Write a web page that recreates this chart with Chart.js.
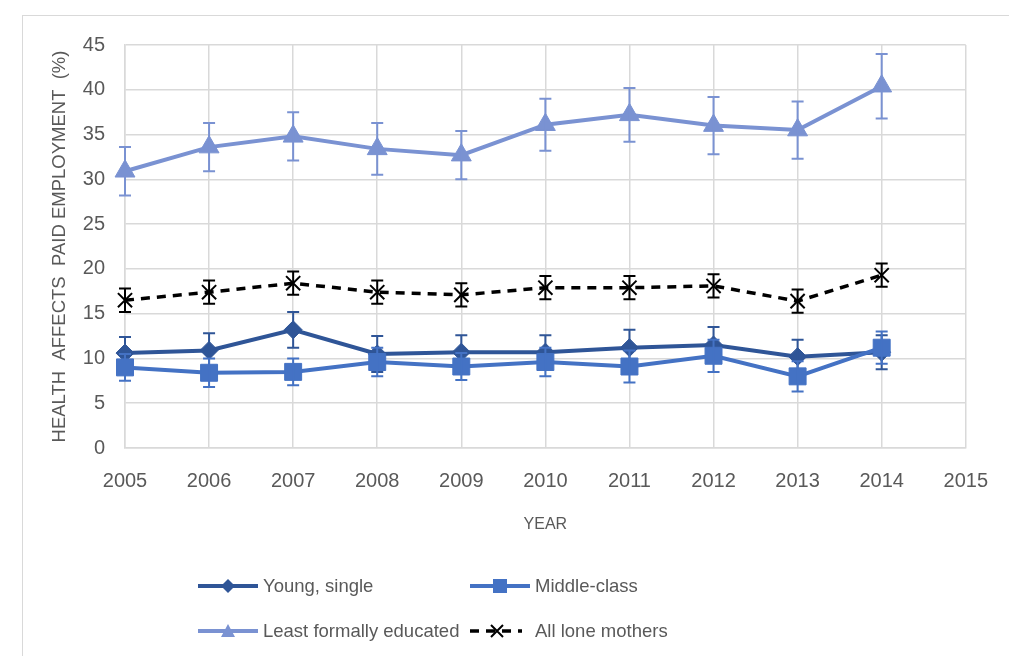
<!DOCTYPE html>
<html>
<head>
<meta charset="utf-8">
<script src="https://cdn.jsdelivr.net/npm/chart.js@4/dist/chart.umd.min.js"></script>
<style>
  html, body { margin:0; padding:0; background:#fff; }
  #wrap { position:relative; width:1009px; height:656px; overflow:hidden; }
  #frame { position:absolute; left:22px; top:15px; width:1000px; height:700px; border:1px solid #d9d9d9; box-sizing:border-box; }
  canvas { position:absolute; left:0; top:0; }
  .leg { position:absolute; font-family:"Liberation Sans", Arial, sans-serif; font-size:18.5px; color:#595959; white-space:nowrap; display:flex; align-items:center; }
  .leg svg { margin-right:5px; }
</style>
</head>
<body>
<div id="wrap">
  <div id="frame"></div>
  <canvas id="c" width="1009" height="656"></canvas>
  <div id="legend"></div>
</div>
<script>
const years = [2005, 2006, 2007, 2008, 2009, 2010, 2011, 2012, 2013, 2014];
const youngSingle = [10.6, 10.9, 13.2, 10.5, 10.7, 10.7, 11.2, 11.5, 10.2, 10.7];
const youngSingleErr = [1.8, 1.9, 2.0, 2.0, 1.9, 1.9, 2.0, 2.0, 1.9, 1.9];
const middleClass = [9.0, 8.4, 8.5, 9.6, 9.1, 9.6, 9.1, 10.3, 8.0, 11.2];
const middleClassErr = [1.5, 1.6, 1.5, 1.6, 1.5, 1.6, 1.8, 1.8, 1.7, 1.8];
const leastEducated = [30.9, 33.6, 34.8, 33.4, 32.7, 36.1, 37.2, 36.0, 35.5, 40.4];
const leastEducatedErr = [2.7, 2.7, 2.7, 2.9, 2.7, 2.9, 3.0, 3.2, 3.2, 3.6];
const allLoneMothers = [16.5, 17.4, 18.4, 17.4, 17.1, 17.9, 17.9, 18.1, 16.4, 19.3];
const allLoneMothersErr = [1.3, 1.3, 1.3, 1.3, 1.3, 1.3, 1.3, 1.3, 1.3, 1.3];
const seriesNames = ['Young, single', 'Middle-class', 'Least formally educated', 'All lone mothers'];
const yTicks = [0, 5, 10, 15, 20, 25, 30, 35, 40, 45];

const COL_YOUNG = '#2F5597';
const COL_MID = '#4472C4';
const COL_LEAST = '#7A92D2';
const COL_ALL = '#000000';

function pts(vals) { return vals.map((v, i) => ({ x: years[i], y: v })); }

const errorBars = {
  id: 'errorBars',
  afterDatasetDraw(chart, args) {
    const ds = chart.data.datasets[args.index];
    if (!ds.errors) return;
    const ctx = chart.ctx, xs = chart.scales.x, ys = chart.scales.y;
    ctx.save();
    ctx.strokeStyle = ds.errorColor || ds.borderColor;
    ctx.lineWidth = 2;
    ctx.setLineDash([]);
    ds.data.forEach((p, i) => {
      const e = ds.errors[i];
      const x = xs.getPixelForValue(p.x);
      const yt = ys.getPixelForValue(p.y + e);
      const yb = ys.getPixelForValue(p.y - e);
      ctx.beginPath();
      ctx.moveTo(x, yt); ctx.lineTo(x, yb);
      ctx.moveTo(x - 6, yt); ctx.lineTo(x + 6, yt);
      ctx.moveTo(x - 6, yb); ctx.lineTo(x + 6, yb);
      ctx.stroke();
    });
    ctx.restore();
  }
};

const tickFont = { family: '"Liberation Sans", Arial, sans-serif', size: 20 };

new Chart(document.getElementById('c'), {
  type: 'line',
  data: {
    datasets: [
      { label: seriesNames[3], data: pts(allLoneMothers), errors: allLoneMothersErr, borderColor: COL_ALL, backgroundColor: COL_ALL,
        borderWidth: 3.5, borderDash: [9, 7], pointStyle: 'crossRot', pointRadius: 10, pointBorderWidth: 2, order: 1, clip: false },
      { label: seriesNames[1], data: pts(middleClass), errors: middleClassErr, borderColor: COL_MID, backgroundColor: COL_MID,
        borderWidth: 4, pointStyle: 'rect', pointRadius: 12, pointBorderWidth: 1, order: 2, clip: false },
      { label: seriesNames[0], data: pts(youngSingle), errors: youngSingleErr, borderColor: COL_YOUNG, backgroundColor: COL_YOUNG,
        borderWidth: 4, pointStyle: 'rectRot', pointRadius: 9, pointBorderWidth: 1, order: 3, clip: false },
      { label: seriesNames[2], data: pts(leastEducated), errors: leastEducatedErr, borderColor: COL_LEAST, backgroundColor: COL_LEAST,
        borderWidth: 4, pointStyle: 'triangle', pointRadius: 11.5, pointBorderWidth: 1, order: 4, clip: false }
    ]
  },
  options: {
    responsive: false,
    animation: false,
    layout: { padding: { left: 49, top: 45, right: 36, bottom: 118 } },
    plugins: { legend: { display: false }, tooltip: { enabled: false } },
    scales: {
      x: {
        type: 'linear', min: 2005, max: 2015,
        afterFit(s) { s.height = 90; },
        grid: { color: '#d9d9d9', lineWidth: 1.5, drawTicks: false },
        border: { color: '#d9d9d9', width: 1.5 },
        ticks: { stepSize: 1, padding: 21, color: '#595959', font: tickFont, callback: v => String(v), maxRotation: 0 },
        title: { display: true, text: 'YEAR', color: '#595959', font: { family: '"Liberation Sans", Arial, sans-serif', size: 16 }, padding: { top: 15 } }
      },
      y: {
        min: 0, max: 45,
        afterFit(s) { s.width = 76; },
        afterBuildTicks(s) { s.ticks = yTicks.map(v => ({ value: v })); },
        grid: { color: '#d9d9d9', lineWidth: 1.5, drawTicks: false },
        border: { color: '#d9d9d9', width: 1.5 },
        ticks: { padding: 20, color: '#595959', font: tickFont },
        title: { display: true, text: 'HEALTH  AFFECTS  PAID EMPLOYMENT  (%)', color: '#595959', font: { family: '"Liberation Sans", Arial, sans-serif', size: 18.5 }, padding: 0 }
      }
    }
  },
  plugins: [errorBars]
});

// HTML legend
const sym = {
  'Young, single': `<svg width="60" height="16"><line x1="0" y1="8" x2="60" y2="8" stroke="${COL_YOUNG}" stroke-width="4"/><polygon points="30,1 37,8 30,15 23,8" fill="${COL_YOUNG}"/></svg>`,
  'Middle-class': `<svg width="60" height="16"><line x1="0" y1="8" x2="60" y2="8" stroke="${COL_MID}" stroke-width="4"/><rect x="23" y="1" width="14" height="14" fill="${COL_MID}"/></svg>`,
  'Least formally educated': `<svg width="60" height="16"><line x1="0" y1="8" x2="60" y2="8" stroke="${COL_LEAST}" stroke-width="4"/><polygon points="30,1 37,14 23,14" fill="${COL_LEAST}"/></svg>`,
  'All lone mothers': `<svg width="60" height="16"><line x1="0" y1="8" x2="52" y2="8" stroke="#000" stroke-width="3.5" stroke-dasharray="9 7"/><path d="M21,2 L33,14 M33,2 L21,14" stroke="#000" stroke-width="2"/></svg>`
};
const legPos = [
  { name: seriesNames[0], left: 198, top: 587 },
  { name: seriesNames[1], left: 470, top: 587 },
  { name: seriesNames[2], left: 198, top: 632 },
  { name: seriesNames[3], left: 470, top: 632 }
];
const legEl = document.getElementById('legend');
legPos.forEach(p => {
  const d = document.createElement('div');
  d.className = 'leg';
  d.style.left = p.left + 'px';
  d.style.top = (p.top - 12) + 'px';
  d.innerHTML = sym[p.name] + '<span>' + p.name + '</span>';
  legEl.appendChild(d);
});
</script>
</body>
</html>
